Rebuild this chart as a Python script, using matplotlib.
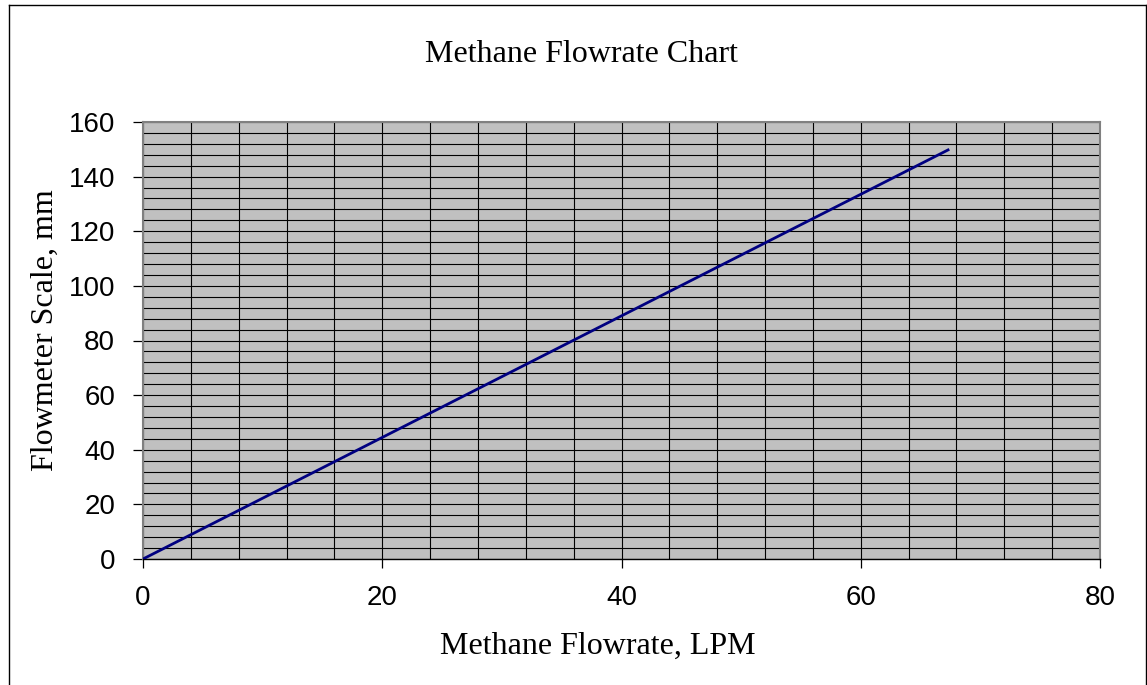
import matplotlib
matplotlib.use("Agg")
import matplotlib.pyplot as plt
from matplotlib.ticker import MultipleLocator
from matplotlib.lines import Line2D

# Data
flowrate_lpm = [0.0, 67.4]
scale_mm = [0.0, 150.0]
x_ticks = [0, 20, 40, 60, 80]
y_ticks = [0, 20, 40, 60, 80, 100, 120, 140, 160]

W, H = 1147, 685
fig = plt.figure(figsize=(W / 100, H / 100), dpi=100)
fig.patch.set_facecolor("white")

left, right, top, bottom = 143, 1100, 122, 559
ax = fig.add_axes([left / W, 1 - bottom / H, (right - left) / W, (bottom - top) / H])
ax.set_facecolor("#C0C0C0")

ax.plot(flowrate_lpm, scale_mm, color="#000080", lw=2.0, solid_capstyle="butt", zorder=3)

ax.set_xlim(0, 80)
ax.set_ylim(0, 160)
ax.set_xticks(x_ticks)
ax.set_yticks(y_ticks)
ax.xaxis.set_minor_locator(MultipleLocator(4))
ax.yaxis.set_minor_locator(MultipleLocator(4))
ax.grid(True, which="both", color="black", lw=0.8, zorder=1)
ax.set_axisbelow(True)

ax.tick_params(axis="both", which="minor", length=0)
ax.tick_params(axis="y", which="major", direction="out", length=7, width=0.9,
               color="black", pad=13, labelsize=20, labelfontfamily="Liberation Sans")
ax.tick_params(axis="x", which="major", direction="out", length=6.5, width=0.9,
               color="black", pad=12, labelsize=20, labelfontfamily="Liberation Sans")

for side in ["left", "top", "right"]:
    ax.spines[side].set_color("#808080")
    ax.spines[side].set_linewidth(1.5)
ax.spines["bottom"].set_color("black")
ax.spines["bottom"].set_linewidth(1.0)

serif = "Liberation Serif"
fig.text(581.5 / W, 1 - 62 / H, "Methane Flowrate Chart", ha="center", va="baseline",
         fontsize=23, family=serif)
fig.text(597.5 / W, 1 - 654 / H, "Methane Flowrate, LPM", ha="center", va="baseline",
         fontsize=23, family=serif)
fig.text(45 / W, 1 - 330.5 / H, "Flowmeter Scale, mm", ha="center", va="center",
         rotation=90, fontsize=23, family=serif)

# outer chart border
bx0, by0, bx1 = 8.5 / W, 1 - 4.5 / H, 1145.5 / W
fig.add_artist(Line2D([bx0, bx0], [0, by0], color="black", lw=1.0, transform=fig.transFigure))
fig.add_artist(Line2D([bx0, bx1], [by0, by0], color="black", lw=1.0, transform=fig.transFigure))
fig.add_artist(Line2D([bx1, bx1], [0, by0], color="black", lw=1.0, transform=fig.transFigure))

fig.savefig("out.png", dpi=100)
